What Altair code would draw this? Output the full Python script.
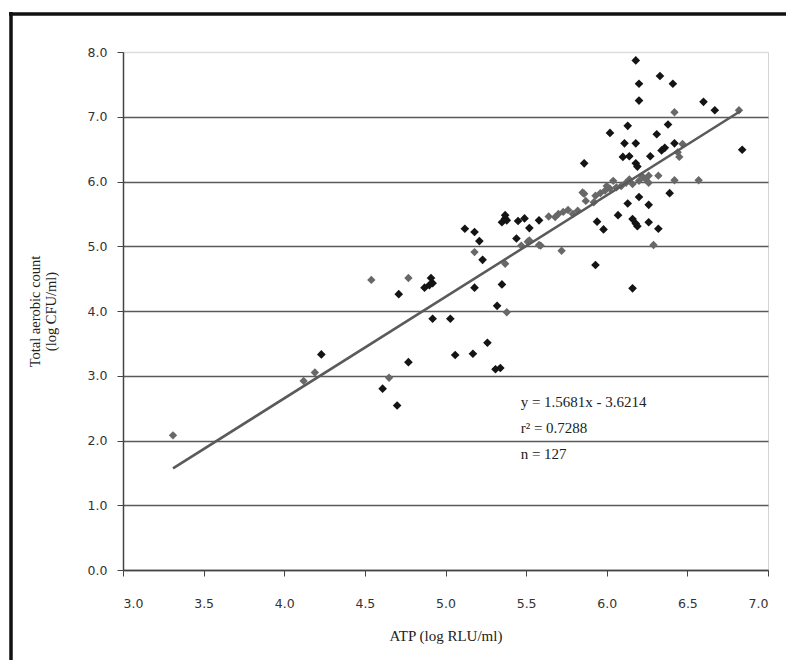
import altair as alt
import pandas as pd

# ---- data ----
black_x = [6.18, 6.33, 6.20, 6.41, 6.20, 6.60, 6.67,
           6.02, 6.13, 6.31, 6.38, 6.11, 6.18, 6.42,
           5.86, 6.10, 6.14, 6.18, 6.19, 6.27, 6.34, 6.36, 6.84,
           6.39, 6.20, 6.26, 6.13, 6.07, 6.16, 6.18, 6.19, 6.26, 6.32, 5.94, 5.98, 5.93, 6.16,
           5.37, 5.35, 5.37, 5.38, 5.45, 5.49, 5.52, 5.58, 5.12, 5.18, 5.21, 5.23, 5.44,
           5.18, 5.35, 5.32,
           4.91, 4.92, 4.87, 4.90, 4.71, 4.92, 5.03, 5.26, 5.06, 5.17, 5.31, 5.34,
           4.23, 4.77, 4.61, 4.70]
black_y = [7.87, 7.63, 7.51, 7.51, 7.25, 7.23, 7.10,
           6.75, 6.86, 6.73, 6.88, 6.59, 6.59, 6.59,
           6.28, 6.38, 6.39, 6.28, 6.23, 6.39, 6.48, 6.52, 6.49,
           5.82, 5.76, 5.64, 5.66, 5.48, 5.42, 5.35, 5.31, 5.37, 5.27, 5.38, 5.26, 4.71, 4.35,
           5.48, 5.37, 5.43, 5.40, 5.39, 5.43, 5.28, 5.40, 5.27, 5.22, 5.08, 4.79, 5.12,
           4.36, 4.41, 4.08,
           4.51, 4.43, 4.36, 4.40, 4.26, 3.88, 3.88, 3.51, 3.32, 3.34, 3.10, 3.12,
           3.33, 3.21, 2.80, 2.54]

gray_x = [6.42, 6.82, 6.47, 6.45, 6.44, 6.32, 6.42, 6.57, 6.26, 6.24, 6.26, 6.20, 6.16,
          6.12, 6.09, 6.04, 6.00, 5.99, 5.93, 5.92, 5.86, 5.87, 5.85, 5.82, 5.79, 5.73,
          5.70, 5.68, 5.59, 5.72, 5.51, 5.47, 5.52, 5.58, 5.18, 5.37, 5.38, 6.29,
          4.54, 4.77, 4.19, 4.12, 4.65, 3.31,
          6.06, 6.02, 5.96, 5.76, 5.64, 6.22, 6.14]
gray_y = [7.07, 7.10, 6.58, 6.38, 6.45, 6.09, 6.02, 6.02, 6.09, 6.04, 5.98, 6.01, 5.96,
          5.98, 5.93, 6.01, 5.93, 5.86, 5.78, 5.68, 5.81, 5.70, 5.83, 5.55, 5.50, 5.53,
          5.50, 5.45, 5.01, 4.93, 5.07, 5.01, 5.09, 5.02, 4.91, 4.73, 3.98, 5.02,
          4.48, 4.51, 3.05, 2.92, 2.97, 2.08,
          5.91, 5.89, 5.82, 5.56, 5.46, 6.08, 6.03]

slope = 1.5681
intercept = -3.6214
fit_x = [3.31, 6.83]

x_ticks = [3.0, 3.5, 4.0, 4.5, 5.0, 5.5, 6.0, 6.5, 7.0]
y_ticks = [0, 1, 2, 3, 4, 5, 6, 7, 8]

annot_lines = ["y = 1.5681x - 3.6214", "r\u00b2 = 0.7288", "n = 127"]
annot_y = [2.60, 2.19, 1.79]
annot_x = 5.466

# ---- tables ----
black_df = pd.DataFrame({"x": black_x, "y": black_y})
gray_df = pd.DataFrame({"x": gray_x, "y": gray_y})
fit_df = pd.DataFrame({"x": fit_x, "y": [slope * v + intercept for v in fit_x]})
annot_df = pd.DataFrame({"t": annot_lines, "x": [annot_x] * 3, "y": annot_y})
one = pd.DataFrame({"a": [0]})

xscale = alt.Scale(domain=[3.0, 7.0], nice=False, zero=False)
yscale = alt.Scale(domain=[0, 8], nice=False, zero=False)

x_axis = alt.Axis(
    title="ATP (log RLU/ml)", values=x_ticks, format=".1f", grid=False,
    domainColor="#444444", domainWidth=1.5, tickColor="#444444", tickSize=6,
    labelFont="DejaVu Sans", labelFontSize=12.5, labelColor="#333333", labelPadding=21,
    titleFont="Liberation Serif", titleFontSize=15, titleFontWeight="normal",
    titleColor="#222222", titlePadding=19,
)
y_axis = alt.Axis(
    title=["Total aerobic count", "(log CFU/ml)"], values=y_ticks, format=".1f",
    grid=True, gridWidth=1.5,
    gridColor={"condition": {"test": "datum.value === 8", "value": "#dddddd"}, "value": "#5a5a5a"},
    domainColor="#444444", domainWidth=1.5, tickColor="#444444", tickSize=6,
    labelFont="DejaVu Sans", labelFontSize=12.5, labelColor="#333333", labelPadding=10,
    titleFont="Liberation Serif", titleFontSize=14.5, titleFontWeight="normal",
    titleColor="#222222", titleX=-95, titleY=259, titleBaseline="top",
    titleAlign="center", titleLineHeight=16,
)

base_black = alt.Chart(black_df).mark_point(
    shape="diamond", filled=True, size=75, color="#141414", opacity=1
).encode(
    x=alt.X("x:Q", scale=xscale, axis=x_axis),
    y=alt.Y("y:Q", scale=yscale, axis=y_axis),
)

gray_pts = alt.Chart(gray_df).mark_point(
    shape="diamond", filled=True, size=70, color="#686868", opacity=1
).encode(x=alt.X("x:Q", scale=xscale), y=alt.Y("y:Q", scale=yscale))

fit_line = alt.Chart(fit_df).mark_line(color="#5a5a5a", strokeWidth=2.6).encode(
    x=alt.X("x:Q", scale=xscale), y=alt.Y("y:Q", scale=yscale)
)

annot = alt.Chart(annot_df).mark_text(
    align="left", baseline="middle", font="Liberation Serif", fontSize=15, color="#222222"
).encode(x=alt.X("x:Q", scale=xscale), y=alt.Y("y:Q", scale=yscale), text="t:N")

frame_left = alt.Chart(one).mark_rule(color="#111111", strokeWidth=3.5).encode(
    x=alt.value(-112), y=alt.value(-40), y2=alt.value(610)
)
frame_top = alt.Chart(one).mark_rule(color="#111111", strokeWidth=3.5).encode(
    x=alt.value(-114), x2=alt.value(665), y=alt.value(-38)
)

chart = alt.layer(
    base_black, gray_pts, fit_line, annot, frame_left, frame_top
).properties(
    width=645, height=518,
    autosize=alt.AutoSizeParams(type="none"),
    padding={"left": 123, "top": 52, "right": 18, "bottom": 90},
    background="white",
).configure_view(stroke="#d4d4d4", strokeWidth=1)

chart.save("out.html", embed_options={"renderer": "svg", "actions": False})
